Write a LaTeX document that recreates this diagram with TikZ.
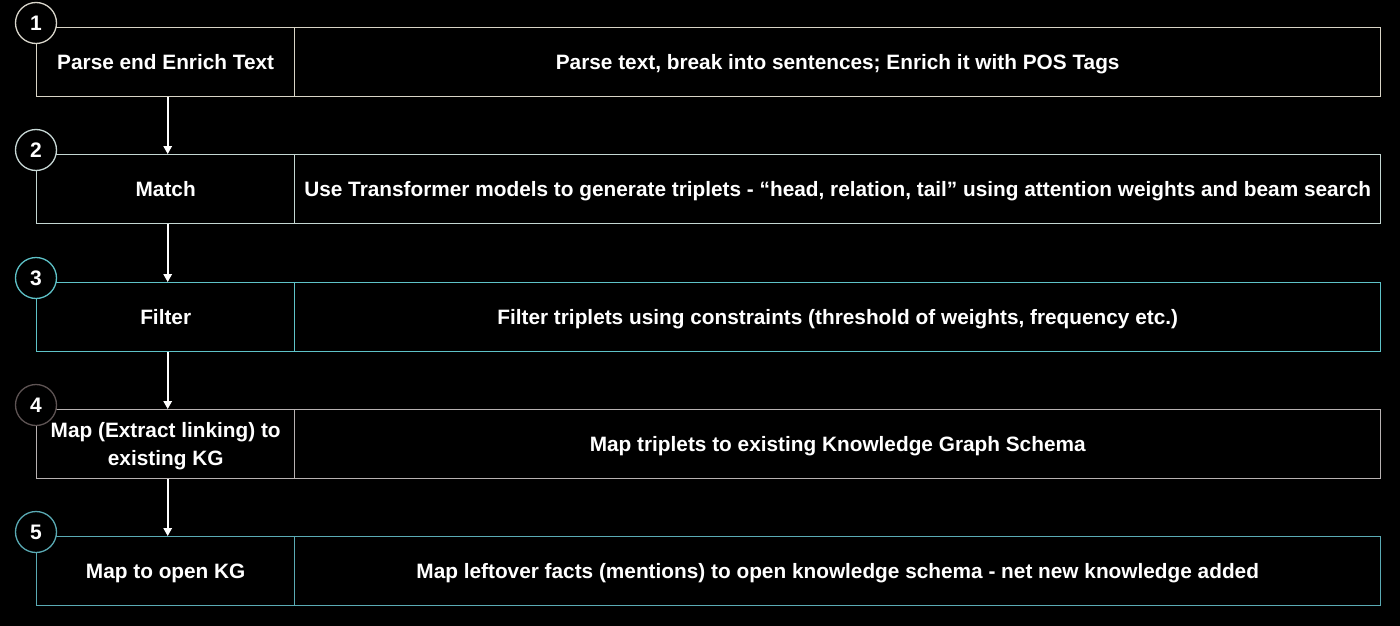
\documentclass[tikz,border=0pt]{standalone}
\usepackage{fontspec}
\setmainfont{Liberation Sans}
\usetikzlibrary{arrows.meta}
\definecolor{rowA}{HTML}{D8D4C6}
\definecolor{rowB}{HTML}{C4D6D2}
\definecolor{rowC}{HTML}{5EC2C8}
\definecolor{rowD}{HTML}{B8B2B2}
\definecolor{rowE}{HTML}{5AAAB4}
\definecolor{ringA}{HTML}{DAD7CC}
\definecolor{ringB}{HTML}{C8D8D6}
\definecolor{ringC}{HTML}{5EC2C8}
\definecolor{ringD}{HTML}{5E5454}
\definecolor{ringE}{HTML}{5AAAB4}
\tikzset{
  cell/.style={draw, line width=1.4pt, fill=black, minimum height=69pt, inner sep=0pt,
    text=white, font=\fontsize{20.8}{28}\selectfont\bfseries, align=center,
    text depth=0pt},
  ring/.style={draw, line width=1.3pt, circle, fill=black, minimum size=41pt, inner sep=0pt,
    text=white, font=\fontsize{21}{24}\selectfont\bfseries},
  flow/.style={draw=white, line width=1.6pt, -{Triangle[width=8.5pt,length=8pt]}}
}
\begin{document}
\begin{tikzpicture}[x=1pt,y=-1pt]
\fill[black] (0,0) rectangle (1400,626);
\useasboundingbox (0,0) rectangle (1400,626);
% rows: number, top edge, colour, ring colour, text height of left cell, left text, right text
\foreach \n/\t/\c/\r/\k/\l/\d in {
  1/27/rowA/ringA/14.9/{Parse end Enrich Text}/{Parse text, break into sentences; Enrich it with POS Tags},
  2/154/rowB/ringB/14.9/{Match}/{Use Transformer models to generate triplets - “head, relation, tail” using attention weights and beam search},
  3/282/rowC/ringC/14.9/{Filter}/{Filter triplets using constraints (threshold of weights, frequency etc.)},
  4/409/rowD/ringD/42.9/{Map (Extract linking) to\\existing KG}/{Map triplets to existing Knowledge Graph Schema},
  5/536/rowE/ringE/14.9/{Map to open KG}/{Map leftover facts (mentions) to open knowledge schema - net new knowledge added}}{
  \node[cell, draw=\c, minimum width=258pt, text height=\k pt, anchor=north west] (L\n) at (36,\t) {\l};
  \node[cell, draw=\c, minimum width=1086pt, text height=14.9pt, anchor=north west] (R\n) at (294,\t) {\d};
  \node[ring, draw=\r] (C\n) at (36,\t-4) {\n};
}
% downward arrows between the left cells
\foreach \a/\b in {1/2,2/3,3/4,4/5}{
  \draw[flow] ([xshift=2pt]L\a.south) -- ([xshift=2pt]L\b.north);
}
\end{tikzpicture}
\end{document}
